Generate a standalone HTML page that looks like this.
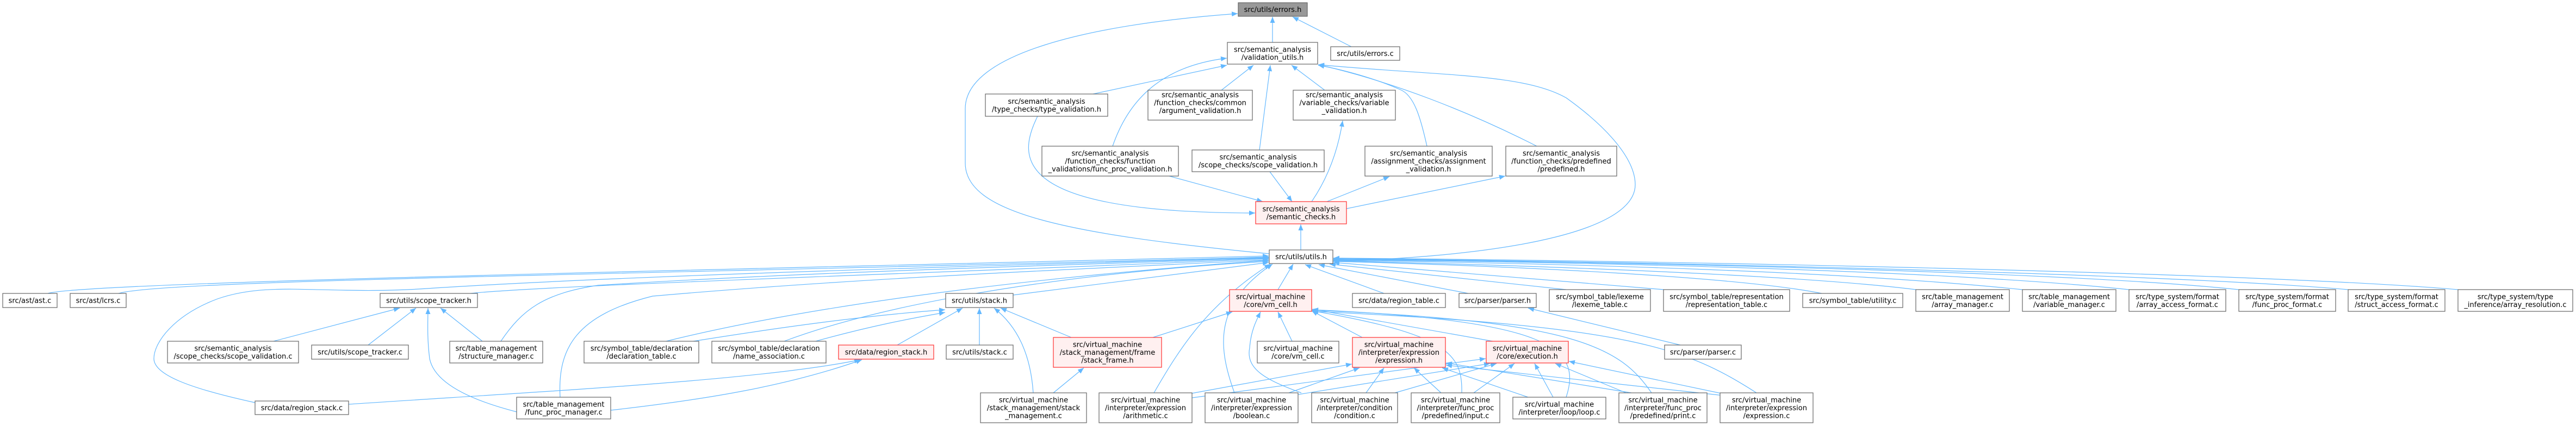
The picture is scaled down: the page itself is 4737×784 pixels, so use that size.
<!DOCTYPE html>
<html><head><meta charset="utf-8"><style>
html,body{margin:0;padding:0;background:#fff}
svg{display:block}
text{font-family:"DejaVu Sans","Liberation Sans",sans-serif;font-size:13px;fill:#000;text-anchor:middle}
.n rect{fill:#fff;stroke:#666;stroke-width:1.2}
.r rect{fill:#fff0f0;stroke:#ff3030;stroke-width:1.2}
.g rect{fill:#999;stroke:#666;stroke-width:1.2}
path.e{fill:none;stroke:#63b8ff;stroke-width:1.2}
</style></head><body>
<svg width="4737" height="784" viewBox="0 0 4737 784" xmlns="http://www.w3.org/2000/svg">
<defs><marker id="a" markerUnits="userSpaceOnUse" markerWidth="12" markerHeight="9" refX="11" refY="4.5" orient="auto"><path d="M0,0 L11,4.5 L0,9 z" fill="#63b8ff"/></marker></defs>
<g marker-end="url(#a)">
<path class="e" d="M2340,78 L2340,31"/>
<path class="e" d="M2485,86 L2377,31"/>
<path class="e" d="M2334,467 C1950,430 1775,390 1775,300 L1775,200 C1775,100 2000,45 2276,25"/>
<path class="e" d="M2010,173 L2256,120"/>
<path class="e" d="M2046,269 C2080,170 2150,120 2256,107"/>
<path class="e" d="M2246,166 L2305,120"/>
<path class="e" d="M2316,276 L2336,120"/>
<path class="e" d="M2436,166 L2375,120"/>
<path class="e" d="M2624,269 C2612,215 2600,175 2575,165 C2530,145 2470,128 2424,120"/>
<path class="e" d="M2826,269 C2700,205 2560,150 2424,119"/>
<path class="e" d="M2451,481 C2800,470 3007,420 3007,340 C3007,290 2950,230 2880,180 C2800,135 2650,140 2424,119"/>
<path class="e" d="M1908,214 C1870,290 1860,392 2308,392"/>
<path class="e" d="M2150,324 L2322,371"/>
<path class="e" d="M2335,316 L2376,371"/>
<path class="e" d="M2412,371 C2440,330 2460,280 2469,222"/>
<path class="e" d="M2440,371 L2555,325"/>
<path class="e" d="M2476,384 L2768,324"/>
<path class="e" d="M2392,460 L2392,413"/>
<path class="e" d="M88,540 C150,520 1200,500 2333,471"/>
<path class="e" d="M218,540 C300,515 1200,505 2333,473"/>
<path class="e" d="M865,540 C1000,525 1800,500 2333,476"/>
<path class="e" d="M469,741 C350,715 283,690 283,660 C283,630 320,580 400,550 C500,515 600,545 800,530 C1200,505 1800,490 2333,474"/>
<path class="e" d="M921,628 C960,570 1000,540 1100,525 C1500,500 1900,490 2333,475"/>
<path class="e" d="M1030,731 C1025,640 1060,580 1200,545 C1600,510 2000,495 2333,478"/>
<path class="e" d="M1225,628 C1500,560 1900,510 2333,479"/>
<path class="e" d="M1442,628 C1650,550 2000,500 2333,481"/>
<path class="e" d="M1863,543 L2333,483"/>
<path class="e" d="M2122,723 C2170,640 2220,560 2336,486"/>
<path class="e" d="M2270,723 C2240,640 2230,560 2340,486"/>
<path class="e" d="M2350,533 L2378,486"/>
<path class="e" d="M2545,540 L2400,487"/>
<path class="e" d="M2700,540 L2425,487"/>
<path class="e" d="M2880,533 L2445,486"/>
<path class="e" d="M3060,533 L2452,483"/>
<path class="e" d="M3350,540 C3200,510 2800,490 2452,481"/>
<path class="e" d="M3523,533 C3300,505 2800,488 2452,480"/>
<path class="e" d="M3719,533 C3400,500 2900,485 2452,479"/>
<path class="e" d="M3915,533 C3600,500 3000,483 2452,478"/>
<path class="e" d="M4117,533 C3800,500 3000,482 2452,477"/>
<path class="e" d="M4318,533 C4000,505 3100,482 2452,476"/>
<path class="e" d="M4520,533 C4200,505 3200,481 2452,475"/>
<path class="e" d="M2120,621 L2266,574"/>
<path class="e" d="M2376,628 L2350,574"/>
<path class="e" d="M2393,723 C2330,700 2290,680 2298,640 C2300,610 2310,590 2318,574"/>
<path class="e" d="M2505,621 L2412,572"/>
<path class="e" d="M2745,628 L2413,569"/>
<path class="e" d="M2880,731 C2910,640 2850,590 2413,570"/>
<path class="e" d="M3037,723 C2980,640 2900,590 2413,571"/>
<path class="e" d="M2688,723 C2690,650 2660,615 2413,572"/>
<path class="e" d="M3230,723 C3100,640 3000,600 2413,573"/>
<path class="e" d="M2180,726 L2486,670"/>
<path class="e" d="M2370,723 L2500,677"/>
<path class="e" d="M2512,723 L2545,677"/>
<path class="e" d="M2650,723 L2600,677"/>
<path class="e" d="M2810,731 L2652,677"/>
<path class="e" d="M3000,723 L2659,668"/>
<path class="e" d="M3170,728 L2659,672"/>
<path class="e" d="M2185,733 L2732,660"/>
<path class="e" d="M2375,728 L2740,669"/>
<path class="e" d="M2565,723 L2752,669"/>
<path class="e" d="M2710,723 L2785,669"/>
<path class="e" d="M2856,731 L2822,669"/>
<path class="e" d="M2990,723 L2860,669"/>
<path class="e" d="M3170,725 L2885,665"/>
<path class="e" d="M1650,635 L1770,567"/>
<path class="e" d="M1801,635 L1801,567"/>
<path class="e" d="M1970,621 L1840,567"/>
<path class="e" d="M1900,723 C1895,650 1870,600 1828,567"/>
<path class="e" d="M1275,628 C1450,600 1600,580 1738,570"/>
<path class="e" d="M1500,628 C1600,600 1680,585 1738,575"/>
<path class="e" d="M503,628 L735,567"/>
<path class="e" d="M677,635 L765,567"/>
<path class="e" d="M887,628 L810,567"/>
<path class="e" d="M950,758 C880,740 800,710 790,660 C785,620 787,590 787,567"/>
<path class="e" d="M641,744 C1000,720 1400,700 1582,662"/>
<path class="e" d="M1123,755 C1300,735 1450,710 1585,662"/>
<path class="e" d="M1937,723 L1993,677"/>
<path class="e" d="M3090,635 L2810,567"/>
</g>
<g class="g"><rect x="2277" y="5" width="127" height="25"/><text x="2340.5" y="22">src/utils/errors.h</text></g>
<g class="n"><rect x="2257" y="78" width="166" height="40"/><text x="2340" y="95.25">src/semantic_analysis</text><text x="2340" y="109.75">/validation_utils.h</text></g>
<g class="n"><rect x="2447" y="86" width="127" height="25"/><text x="2510.5" y="103">src/utils/errors.c</text></g>
<g class="n"><rect x="1812" y="173" width="225" height="41"/><text x="1924.5" y="190.75">src/semantic_analysis</text><text x="1924.5" y="205.25">/type_checks/type_validation.h</text></g>
<g class="n"><rect x="2111" y="166" width="192" height="55"/><text x="2207" y="179">src/semantic_analysis</text><text x="2207" y="193.5">/function_checks/common</text><text x="2207" y="208">/argument_validation.h</text></g>
<g class="n"><rect x="2378" y="166" width="188" height="55"/><text x="2472" y="179">src/semantic_analysis</text><text x="2472" y="193.5">/variable_checks/variable</text><text x="2472" y="208">_validation.h</text></g>
<g class="n"><rect x="1916" y="269" width="251" height="55"/><text x="2041.5" y="286.5">src/semantic_analysis</text><text x="2041.5" y="301">/function_checks/function</text><text x="2041.5" y="315.5">_validations/func_proc_validation.h</text></g>
<g class="n"><rect x="2192" y="276" width="243" height="40"/><text x="2313.5" y="293.25">src/semantic_analysis</text><text x="2313.5" y="307.75">/scope_checks/scope_validation.h</text></g>
<g class="n"><rect x="2510" y="269" width="234" height="55"/><text x="2627" y="286.5">src/semantic_analysis</text><text x="2627" y="301">/assignment_checks/assignment</text><text x="2627" y="315.5">_validation.h</text></g>
<g class="n"><rect x="2769" y="269" width="204" height="55"/><text x="2871" y="286.5">src/semantic_analysis</text><text x="2871" y="301">/function_checks/predefined</text><text x="2871" y="315.5">/predefined.h</text></g>
<g class="r"><rect x="2309" y="371" width="167" height="41"/><text x="2392.5" y="388.75">src/semantic_analysis</text><text x="2392.5" y="403.25">/semantic_checks.h</text></g>
<g class="n"><rect x="2334" y="460" width="117" height="25"/><text x="2392.5" y="477">src/utils/utils.h</text></g>
<g class="n"><rect x="5" y="540" width="100" height="26"/><text x="55" y="557.5">src/ast/ast.c</text></g>
<g class="n"><rect x="129" y="540" width="103" height="26"/><text x="180.5" y="557.5">src/ast/lcrs.c</text></g>
<g class="n"><rect x="699" y="540" width="179" height="26"/><text x="788.5" y="557.5">src/utils/scope_tracker.h</text></g>
<g class="n"><rect x="1739" y="540" width="124" height="26"/><text x="1801" y="557.5">src/utils/stack.h</text></g>
<g class="r"><rect x="2261" y="533" width="151" height="40"/><text x="2336.5" y="550.25">src/virtual_machine</text><text x="2336.5" y="564.75">/core/vm_cell.h</text></g>
<g class="n"><rect x="2487" y="540" width="171" height="26"/><text x="2572.5" y="557.5">src/data/region_table.c</text></g>
<g class="n"><rect x="2683" y="540" width="142" height="26"/><text x="2754" y="557.5">src/parser/parser.h</text></g>
<g class="n"><rect x="2849" y="533" width="186" height="40"/><text x="2942" y="550.25">src/symbol_table/lexeme</text><text x="2942" y="564.75">/lexeme_table.c</text></g>
<g class="n"><rect x="3059" y="533" width="232" height="40"/><text x="3175" y="550.25">src/symbol_table/representation</text><text x="3175" y="564.75">/representation_table.c</text></g>
<g class="n"><rect x="3315" y="540" width="184" height="26"/><text x="3407" y="557.5">src/symbol_table/utility.c</text></g>
<g class="n"><rect x="3523" y="533" width="172" height="40"/><text x="3609" y="550.25">src/table_management</text><text x="3609" y="564.75">/array_manager.c</text></g>
<g class="n"><rect x="3719" y="533" width="172" height="40"/><text x="3805" y="550.25">src/table_management</text><text x="3805" y="564.75">/variable_manager.c</text></g>
<g class="n"><rect x="3915" y="533" width="178" height="40"/><text x="4004" y="550.25">src/type_system/format</text><text x="4004" y="564.75">/array_access_format.c</text></g>
<g class="n"><rect x="4117" y="533" width="178" height="40"/><text x="4206" y="550.25">src/type_system/format</text><text x="4206" y="564.75">/func_proc_format.c</text></g>
<g class="n"><rect x="4318" y="533" width="178" height="40"/><text x="4407" y="550.25">src/type_system/format</text><text x="4407" y="564.75">/struct_access_format.c</text></g>
<g class="n"><rect x="4520" y="533" width="211" height="40"/><text x="4625.5" y="550.25">src/type_system/type</text><text x="4625.5" y="564.75">_inference/array_resolution.c</text></g>
<g class="n"><rect x="308" y="628" width="241" height="40"/><text x="428.5" y="645.25">src/semantic_analysis</text><text x="428.5" y="659.75">/scope_checks/scope_validation.c</text></g>
<g class="n"><rect x="573" y="635" width="178" height="26"/><text x="662" y="652.5">src/utils/scope_tracker.c</text></g>
<g class="n"><rect x="827" y="628" width="171" height="40"/><text x="912.5" y="645.25">src/table_management</text><text x="912.5" y="659.75">/structure_manager.c</text></g>
<g class="n"><rect x="1074" y="628" width="211" height="40"/><text x="1179.5" y="645.25">src/symbol_table/declaration</text><text x="1179.5" y="659.75">/declaration_table.c</text></g>
<g class="n"><rect x="1309" y="628" width="210" height="40"/><text x="1414" y="645.25">src/symbol_table/declaration</text><text x="1414" y="659.75">/name_association.c</text></g>
<g class="r"><rect x="1542" y="635" width="175" height="26"/><text x="1629.5" y="652.5">src/data/region_stack.h</text></g>
<g class="n"><rect x="1740" y="635" width="123" height="26"/><text x="1801.5" y="652.5">src/utils/stack.c</text></g>
<g class="r"><rect x="1937" y="621" width="199" height="55"/><text x="2036.5" y="638.5">src/virtual_machine</text><text x="2036.5" y="653">/stack_management/frame</text><text x="2036.5" y="667.5">/stack_frame.h</text></g>
<g class="n"><rect x="2312" y="628" width="150" height="40"/><text x="2387" y="645.25">src/virtual_machine</text><text x="2387" y="659.75">/core/vm_cell.c</text></g>
<g class="r"><rect x="2487" y="621" width="171" height="55"/><text x="2572.5" y="638.5">src/virtual_machine</text><text x="2572.5" y="653">/interpreter/expression</text><text x="2572.5" y="667.5">/expression.h</text></g>
<g class="r"><rect x="2733" y="628" width="151" height="40"/><text x="2808.5" y="645.25">src/virtual_machine</text><text x="2808.5" y="659.75">/core/execution.h</text></g>
<g class="n"><rect x="3061" y="635" width="141" height="26"/><text x="3131.5" y="652.5">src/parser/parser.c</text></g>
<g class="n"><rect x="469" y="738" width="172" height="25"/><text x="555" y="755">src/data/region_stack.c</text></g>
<g class="n"><rect x="950" y="731" width="173" height="40"/><text x="1036.5" y="748.25">src/table_management</text><text x="1036.5" y="762.75">/func_proc_manager.c</text></g>
<g class="n"><rect x="1803" y="723" width="195" height="55"/><text x="1900.5" y="740.5">src/virtual_machine</text><text x="1900.5" y="755">/stack_management/stack</text><text x="1900.5" y="769.5">_management.c</text></g>
<g class="n"><rect x="2021" y="723" width="171" height="55"/><text x="2106.5" y="740.5">src/virtual_machine</text><text x="2106.5" y="755">/interpreter/expression</text><text x="2106.5" y="769.5">/arithmetic.c</text></g>
<g class="n"><rect x="2216" y="723" width="171" height="55"/><text x="2301.5" y="740.5">src/virtual_machine</text><text x="2301.5" y="755">/interpreter/expression</text><text x="2301.5" y="769.5">/boolean.c</text></g>
<g class="n"><rect x="2412" y="723" width="158" height="55"/><text x="2491" y="740.5">src/virtual_machine</text><text x="2491" y="755">/interpreter/condition</text><text x="2491" y="769.5">/condition.c</text></g>
<g class="n"><rect x="2595" y="723" width="163" height="55"/><text x="2676.5" y="740.5">src/virtual_machine</text><text x="2676.5" y="755">/interpreter/func_proc</text><text x="2676.5" y="769.5">/predefined/input.c</text></g>
<g class="n"><rect x="2782" y="731" width="171" height="40"/><text x="2867.5" y="748.25">src/virtual_machine</text><text x="2867.5" y="762.75">/interpreter/loop/loop.c</text></g>
<g class="n"><rect x="2977" y="723" width="162" height="55"/><text x="3058" y="740.5">src/virtual_machine</text><text x="3058" y="755">/interpreter/func_proc</text><text x="3058" y="769.5">/predefined/print.c</text></g>
<g class="n"><rect x="3163" y="723" width="171" height="55"/><text x="3248.5" y="740.5">src/virtual_machine</text><text x="3248.5" y="755">/interpreter/expression</text><text x="3248.5" y="769.5">/expression.c</text></g>
</svg>
</body></html>
